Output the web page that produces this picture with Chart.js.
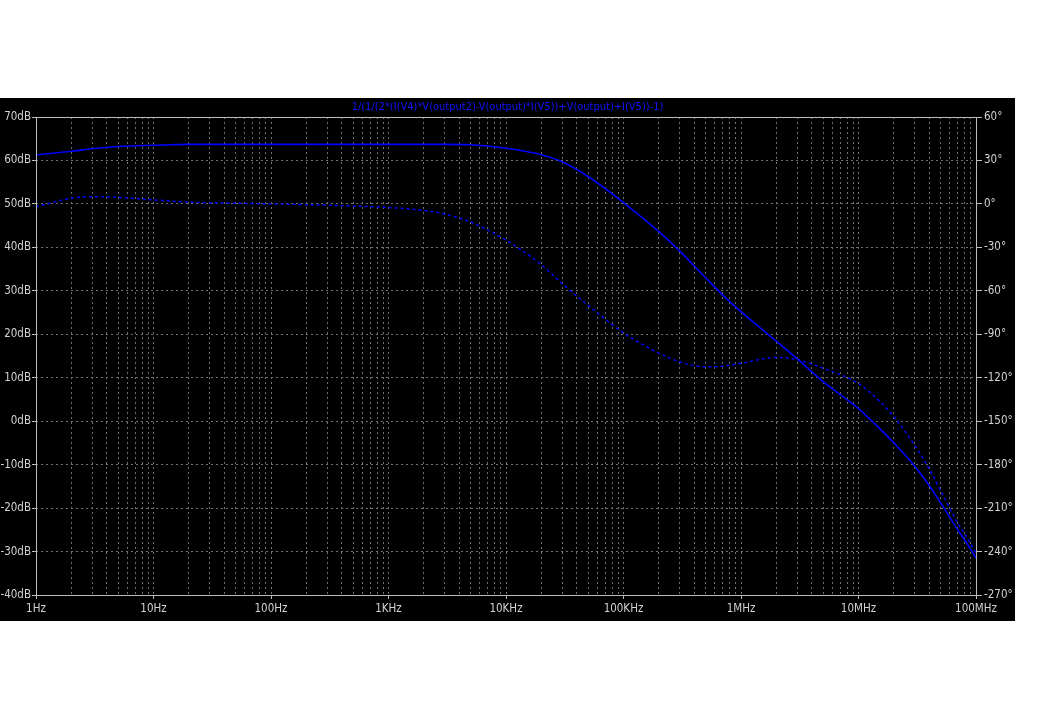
<!DOCTYPE html>
<html>
<head>
<meta charset="utf-8">
<script src="https://cdn.jsdelivr.net/npm/chart.js@4.4.1/dist/chart.umd.min.js"></script>
<style>
  html, body { margin: 0; padding: 0; background: #fff; }
  #wrap { position: absolute; left: 0; top: 98px; width: 1015px; height: 523px; background: #000; }
</style>
</head>
<body>
<div id="wrap"><canvas id="bode" width="1015" height="523"></canvas></div>
<script>
// frequencies (Hz) and the two traces
const freqs = [1, 2, 3, 5, 10, 20, 50, 100, 200, 500, 1e3, 2e3, 3e3, 5e3, 1e4, 2e4, 3e4, 5e4,
  1e5, 2e5, 3e5, 5e5, 7e5, 1e6, 2e6, 3e6, 5e6, 1e7, 1.5e7, 2e7, 3e7, 4e7, 5e7, 7e7, 8.5e7, 1e8];
const magnitudeDb = [61.3, 62.1, 62.7, 63.2, 63.5, 63.7, 63.7, 63.7, 63.7, 63.7, 63.7, 63.7, 63.7, 63.6, 62.8, 61.3, 59.7, 56.3,
  50.3, 43.6, 39.2, 33.0, 29.0, 25.2, 18.4, 14.4, 9.1, 2.9, -1.6, -5, -10.3, -14.8, -18.8, -25, -28.4, -31.5];
const phaseDeg = [-2, 4, 5, 4.5, 2.8, 1.2, 0.5, 0, -0.5, -1.5, -2.5, -4.5, -7, -12.5, -25, -42, -55, -70,
  -89, -103, -109, -112.5, -112, -110, -106, -107.5, -113.5, -124, -136, -147, -166.5, -183, -198, -220.5, -231, -241];
const decadeLabels = ['1Hz', '10Hz', '100Hz', '1KHz', '10KHz', '100KHz', '1MHz', '10MHz', '100MHz'];
const title = '1/(1/(2*(I(V4)*V(output2)-V(output)*I(V5))+V(output)+I(V5))-1)';

const font = { family: "'Liberation Sans Narrow', 'DejaVu Sans Condensed', sans-serif", size: 11.5, weight: 'normal' };
const gridColor = '#707070';
const axisColor = '#bdbdbd';
const labelColor = '#d2d2d2';

const toPoints = vals => freqs.map((f, i) => ({ x: Math.log10(f), y: vals[i] }));

// box around the plot area
const frame = {
  id: 'frame',
  afterDraw(chart) {
    const a = chart.chartArea, c = chart.ctx;
    c.save();
    c.strokeStyle = axisColor;
    c.lineWidth = 1;
    c.strokeRect(Math.round(a.left) + 0.5, Math.round(a.top) + 0.5, Math.round(a.right - a.left), Math.round(a.bottom - a.top));
    c.restore();
  }
};

new Chart(document.getElementById('bode'), {
  type: 'line',
  data: {
    datasets: [{
      label: 'magnitude',
      data: toPoints(magnitudeDb),
      yAxisID: 'y',
      borderColor: '#0000ff',
      borderWidth: 1.6,
      pointRadius: 0,
      cubicInterpolationMode: 'monotone'
    }, {
      label: 'phase',
      data: toPoints(phaseDeg),
      yAxisID: 'y2',
      borderColor: '#0000ff',
      borderWidth: 1.5,
      borderDash: [3, 3],
      pointRadius: 0,
      cubicInterpolationMode: 'monotone'
    }]
  },
  options: {
    responsive: false,
    animation: false,
    layout: { padding: 0 },
    plugins: {
      legend: { display: false },
      tooltip: { enabled: false },
      title: {
        display: true,
        text: title,
        color: '#1414ff',
        font: { family: font.family, size: 11, weight: 'normal' },
        padding: { top: 3, bottom: 2.8 }
      }
    },
    scales: {
      x: {
        type: 'linear',
        min: 0,
        max: 8,
        afterBuildTicks(scale) {
          const t = [];
          for (let n = 0; n < 8; n++) {
            for (let k = 1; k < 10; k++) t.push({ value: n + Math.log10(k) });
          }
          t.push({ value: 8 });
          scale.ticks = t;
        },
        afterFit(scale) { scale.height = 26; },
        ticks: {
          autoSkip: false,
          maxRotation: 0,
          color: labelColor,
          font: font,
          padding: 3,
          callback: v => Number.isInteger(v) ? decadeLabels[v] : ''
        },
        grid: {
          color: gridColor,
          tickLength: 4,
          tickColor: ctx => (ctx.tick && Number.isInteger(ctx.tick.value)) ? axisColor : 'rgba(0,0,0,0)',
          tickBorderDash: []
        },
        border: { display: false, dash: [2, 3] }
      },
      y: {
        position: 'left',
        min: -40,
        max: 70,
        afterFit(scale) { scale.width = 36; },
        ticks: {
          stepSize: 10,
          color: labelColor,
          font: font,
          padding: 1,
          callback: v => v + 'dB'
        },
        grid: { color: gridColor, tickLength: 4, tickColor: axisColor, tickBorderDash: [] },
        border: { display: false, dash: [2, 3] }
      },
      y2: {
        position: 'right',
        min: -270,
        max: 60,
        afterFit(scale) { scale.width = 39; },
        ticks: {
          stepSize: 30,
          color: labelColor,
          font: font,
          padding: 2,
          callback: v => v + '°'
        },
        grid: { drawOnChartArea: false, tickLength: 6, tickColor: axisColor },
        border: { display: false }
      }
    }
  },
  plugins: [frame]
});
</script>
</body>
</html>
